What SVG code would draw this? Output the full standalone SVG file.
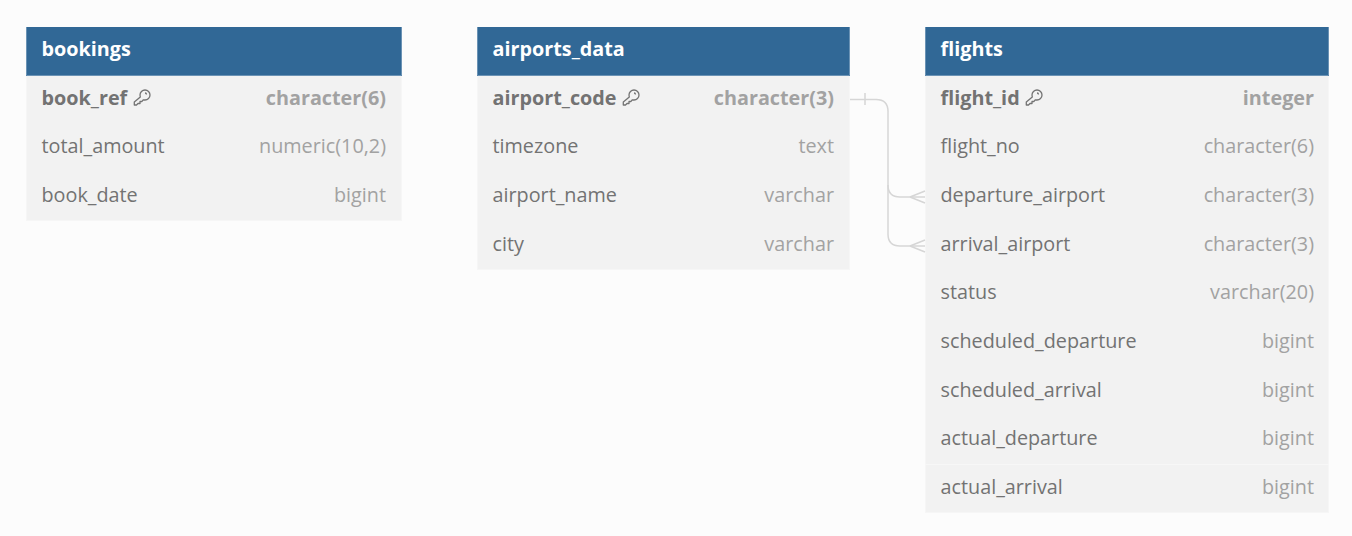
<svg xmlns="http://www.w3.org/2000/svg" width="1352" height="536" viewBox="0 0 1352 536">
<style>
text{font-family:"Open Sans","Noto Sans",sans-serif;font-size:19.8px}
.h{fill:#316896}
.e{fill:none;stroke:#6b93b5;stroke-width:1}
.b{fill:#f2f2f2;stroke:#f6f6f6;stroke-width:1}
.d{fill:none;stroke:#f7f7f7;stroke-width:1}
.t{fill:#fff;font-weight:700}
.n{fill:#737373}
.y{fill:#a2a2a2;text-anchor:end}
.p{font-weight:700}
.k{fill:none;stroke:#737373;stroke-width:1.3;stroke-linejoin:round}
.c{fill:none;stroke:#d6d6d6;stroke-width:1.5}
</style>
<defs>
<path id="key" class="k" d="M6.500 5.500A5 5 0 1 1 11.500 10.500L9.500 10.500 8.500 12 6.500 12 6.500 14 4.500 14 3 15.500 0.800 15.500 0.800 12.500 6.800 7.500ZM11.500 3.500A1.500 1.500 0 0 1 13 5"/>
</defs>
<rect width="1352" height="536" fill="#fcfcfc"/>
<g id="bookings">
<rect class="b" x="26.500" y="75.500" width="375" height="145"/>
<rect class="h" x="26" y="27" width="376" height="49"/>
<path class="e" d="M26.500 27V75.500H401.500V27"/>
<text class="t" x="41.500" y="56">bookings</text>
<text class="n p" x="41.500" y="105">book_ref</text><use href="#key" x="133.500" y="89.500"/><text class="y p" x="386" y="105">character(6)</text>
<text class="n" x="41.500" y="153">total_amount</text><text class="y" x="386" y="153">numeric(10,2)</text>
<text class="n" x="41.500" y="202">book_date</text><text class="y" x="386" y="202">bigint</text>
</g>
<g id="airports_data">
<rect class="b" x="477.500" y="75.500" width="372" height="194"/>
<rect class="h" x="477" y="27" width="373" height="49"/>
<path class="e" d="M477.500 27V75.500H849.500V27"/>
<text class="t" x="492.500" y="56">airports_data</text>
<text class="n p" x="492.500" y="105">airport_code</text><use href="#key" x="622.500" y="89.500"/><text class="y p" x="834" y="105">character(3)</text>
<text class="n" x="492.500" y="153">timezone</text><text class="y" x="834" y="153">text</text>
<text class="n" x="492.500" y="202">airport_name</text><text class="y" x="834" y="202">varchar</text>
<text class="n" x="492.500" y="251">city</text><text class="y" x="834" y="251">varchar</text>
</g>
<g id="flights">
<rect class="b" x="925.500" y="75.500" width="403" height="437"/>
<rect class="h" x="925" y="27" width="404" height="49"/>
<path class="e" d="M925.500 27V75.500H1328.500V27"/>
<path class="d" d="M925 464.500H1329"/>
<text class="t" x="940.500" y="56">flights</text>
<text class="n p" x="940.500" y="105">flight_id</text><use href="#key" x="1025.500" y="89.500"/><text class="y p" x="1314" y="105">integer</text>
<text class="n" x="940.500" y="153">flight_no</text><text class="y" x="1314" y="153">character(6)</text>
<text class="n" x="940.500" y="202">departure_airport</text><text class="y" x="1314" y="202">character(3)</text>
<text class="n" x="940.500" y="251">arrival_airport</text><text class="y" x="1314" y="251">character(3)</text>
<text class="n" x="940.500" y="299">status</text><text class="y" x="1314" y="299">varchar(20)</text>
<text class="n" x="940.500" y="348">scheduled_departure</text><text class="y" x="1314" y="348">bigint</text>
<text class="n" x="940.500" y="397">scheduled_arrival</text><text class="y" x="1314" y="397">bigint</text>
<text class="n" x="940.500" y="445">actual_departure</text><text class="y" x="1314" y="445">bigint</text>
<text class="n" x="940.500" y="494">actual_arrival</text><text class="y" x="1314" y="494">bigint</text>
</g>
<g id="connectors">
<path class="c" d="M850 99.500H876Q888 99.500 888 111.500V185Q888 197 900 197H925"/>
<path class="c" d="M888 185V234Q888 246 900 246H925"/>
<path class="c" d="M865 93V105"/>
<path class="c" d="M910 197 925 191M910 197 925 203M910 246 925 240M910 246 925 252"/>
</g>
</svg>
